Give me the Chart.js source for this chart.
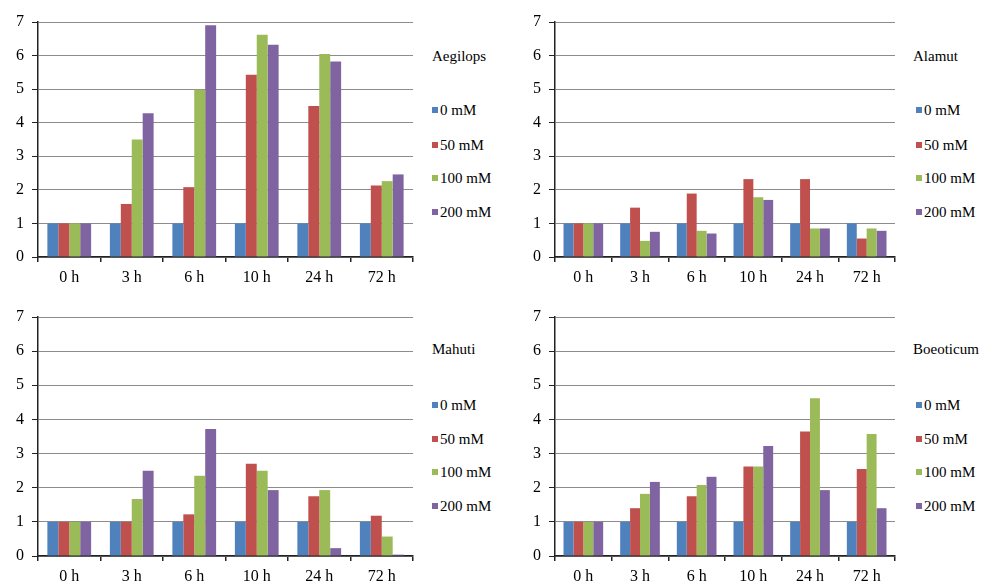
<!DOCTYPE html>
<html>
<head>
<meta charset="utf-8">
<script src="https://cdn.jsdelivr.net/npm/chart.js"></script>
<style>
  html, body { margin: 0; padding: 0; background: #fff; }
  body { width: 1003px; height: 586px; position: relative; overflow: hidden; font-family: serif; }
  .panel { position: absolute; }
  .lg { position: absolute; font-size: 15px; color: #000; white-space: nowrap; font-family: serif; }
  .lg .title { position: absolute; left: 0; top: 0; line-height: 18px; }
  .lg .item { position: absolute; line-height: 18px; }
  .lg .sw { display: inline-block; width: 6px; height: 6px; margin-right: 2px; vertical-align: 2px; }
</style>
</head>
<body>
<div class="lg" style="left:432px;top:47px">
  <div class="title">Aegilops</div>
  <div class="item" style="left:0px;top:54px"><span class="sw" style="background:#4F81BD"></span>0 mM</div>
  <div class="item" style="left:0px;top:89px"><span class="sw" style="background:#C0504D"></span>50 mM</div>
  <div class="item" style="left:0px;top:122px"><span class="sw" style="background:#9BBB59"></span>100 mM</div>
  <div class="item" style="left:0px;top:156px"><span class="sw" style="background:#8064A2"></span>200 mM</div>
</div>
<div class="lg" style="left:913px;top:47px">
  <div class="title">Alamut</div>
  <div class="item" style="left:3px;top:54px"><span class="sw" style="background:#4F81BD"></span>0 mM</div>
  <div class="item" style="left:3px;top:89px"><span class="sw" style="background:#C0504D"></span>50 mM</div>
  <div class="item" style="left:3px;top:122px"><span class="sw" style="background:#9BBB59"></span>100 mM</div>
  <div class="item" style="left:3px;top:156px"><span class="sw" style="background:#8064A2"></span>200 mM</div>
</div>
<div class="lg" style="left:432px;top:340px">
  <div class="title">Mahuti</div>
  <div class="item" style="left:0px;top:56px"><span class="sw" style="background:#4F81BD"></span>0 mM</div>
  <div class="item" style="left:0px;top:90px"><span class="sw" style="background:#C0504D"></span>50 mM</div>
  <div class="item" style="left:0px;top:123px"><span class="sw" style="background:#9BBB59"></span>100 mM</div>
  <div class="item" style="left:0px;top:157px"><span class="sw" style="background:#8064A2"></span>200 mM</div>
</div>
<div class="lg" style="left:913px;top:340px">
  <div class="title">Boeoticum</div>
  <div class="item" style="left:3px;top:56px"><span class="sw" style="background:#4F81BD"></span>0 mM</div>
  <div class="item" style="left:3px;top:90px"><span class="sw" style="background:#C0504D"></span>50 mM</div>
  <div class="item" style="left:3px;top:123px"><span class="sw" style="background:#9BBB59"></span>100 mM</div>
  <div class="item" style="left:3px;top:157px"><span class="sw" style="background:#8064A2"></span>200 mM</div>
</div>
<script>
// ---- data ----
const categories = ['0 h', '3 h', '6 h', '10 h', '24 h', '72 h'];
const seriesNames = ['0 mM', '50 mM', '100 mM', '200 mM'];
const seriesColors = ['#4F81BD', '#C0504D', '#9BBB59', '#8064A2'];
const yTicks = [0, 1, 2, 3, 4, 5, 6, 7];

// each panel: values for 0, 50, 100, 200 mM
const aegilops0   = [1, 1, 1, 1, 1, 1];
const aegilops50  = [1, 1.58, 2.08, 5.43, 4.50, 2.13];
const aegilops100 = [1, 3.50, 4.98, 6.62, 6.05, 2.26];
const aegilops200 = [1, 4.28, 6.90, 6.32, 5.82, 2.46];

const alamut0   = [1, 1, 1, 1, 1, 1];
const alamut50  = [1, 1.47, 1.89, 2.32, 2.32, 0.55];
const alamut100 = [1, 0.48, 0.78, 1.78, 0.85, 0.85];
const alamut200 = [1, 0.75, 0.70, 1.70, 0.85, 0.78];

const mahuti0   = [1, 1, 1, 1, 1, 1];
const mahuti50  = [1, 1, 1.22, 2.70, 1.75, 1.18];
const mahuti100 = [1, 1.67, 2.35, 2.50, 1.93, 0.57];
const mahuti200 = [1, 2.50, 3.72, 1.93, 0.23, 0.04];

const boeoticum0   = [1, 1, 1, 1, 1, 1];
const boeoticum50  = [1, 1.40, 1.75, 2.62, 3.65, 2.55];
const boeoticum100 = [1, 1.82, 2.08, 2.62, 4.62, 3.57];
const boeoticum200 = [1, 2.17, 2.32, 3.22, 1.93, 1.40];

const panelValues = [
  [aegilops0, aegilops50, aegilops100, aegilops200],
  [alamut0, alamut50, alamut100, alamut200],
  [mahuti0, mahuti50, mahuti100, mahuti200],
  [boeoticum0, boeoticum50, boeoticum100, boeoticum200]
];

// ---- layout ----
const panels = [
  { left: 0,   top: 0,   w: 420, h: 290 },
  { left: 517, top: 0,   w: 385, h: 290 },
  { left: 0,   top: 295, w: 420, h: 294 },
  { left: 517, top: 295, w: 385, h: 294 }
];

const FAMILY = 'serif';
Chart.defaults.font.family = FAMILY;

panels.forEach((p, i) => {
  const c = document.createElement('canvas');
  c.width = p.w; c.height = p.h;
  c.className = 'panel';
  c.style.left = p.left + 'px'; c.style.top = p.top + 'px';
  c.style.width = p.w + 'px'; c.style.height = p.h + 'px';
  document.body.appendChild(c);

  new Chart(c.getContext('2d'), {
    type: 'bar',
    data: {
      labels: categories,
      datasets: seriesNames.map((name, k) => ({
        label: name,
        data: panelValues[i][k],
        backgroundColor: seriesColors[k],
        borderWidth: 0,
        categoryPercentage: 0.7,
        barPercentage: 1.0
      }))
    },
    options: {
      responsive: false,
      animation: false,
      devicePixelRatio: 1,
      layout: { padding: { top: 22, right: 7, bottom: 0, left: 0 } },
      plugins: { legend: { display: false }, tooltip: { enabled: false }, title: { display: false } },
      scales: {
        x: {
          grid: { display: true, offset: true, drawOnChartArea: false, drawTicks: true, tickLength: 5, tickColor: '#222', lineWidth: 1.5 },
          border: { display: true, color: '#222', width: 1.5 },
          ticks: { color: '#000', font: { family: FAMILY, size: 16 }, padding: 6, maxRotation: 0 },
          afterFit: (s) => { s.height = 33; }
        },
        y: {
          min: 0, max: 7,
          afterBuildTicks: (s) => { s.ticks = yTicks.map(v => ({ value: v })); },
          grid: { color: '#8c8c8c', lineWidth: 1, drawTicks: true, tickLength: 6, tickColor: '#222' },
          border: { display: true, color: '#222', width: 1.5 },
          ticks: { color: '#000', font: { family: FAMILY, size: 16 }, padding: 8 },
          afterFit: (s) => { s.width = 38; }
        }
      }
    }
  });
});
</script>
</body>
</html>
